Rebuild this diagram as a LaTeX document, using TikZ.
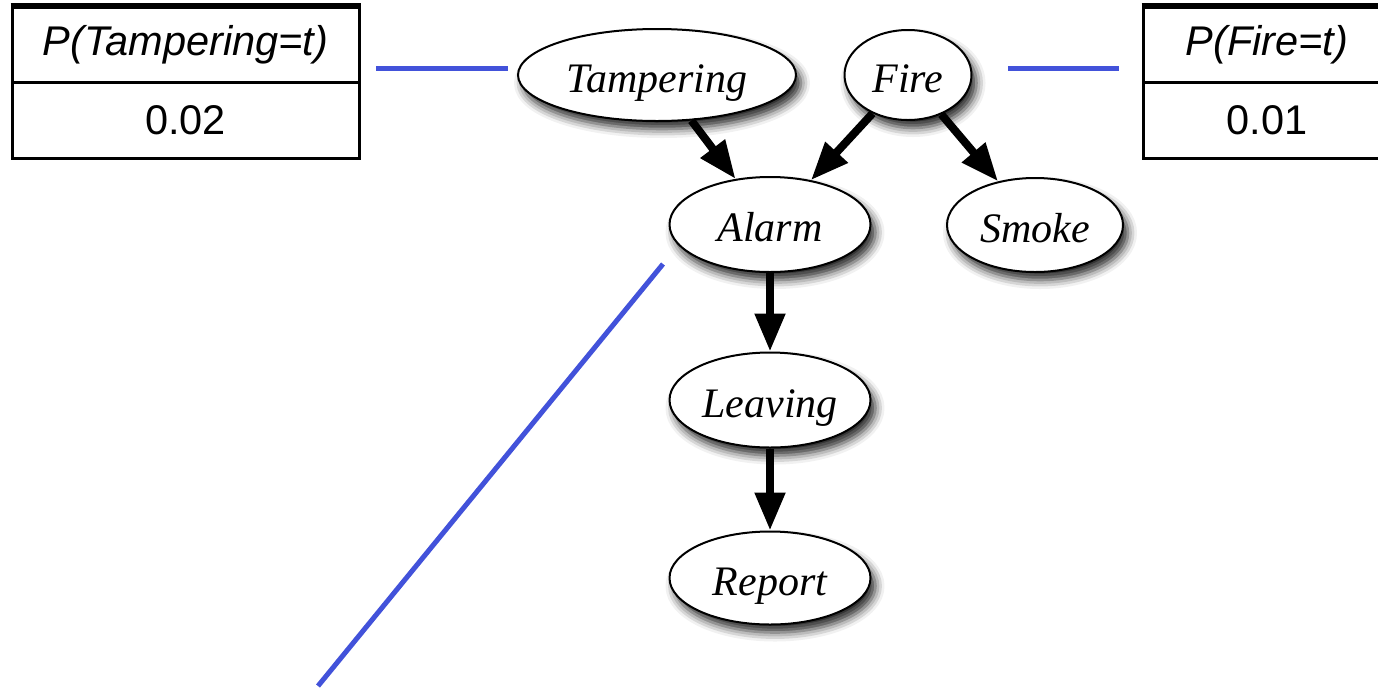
\documentclass[tikz,border=0pt]{standalone}
\usepackage{fontspec}
\setmainfont{Liberation Serif}
\setsansfont{Liberation Sans}
\usetikzlibrary{shapes.geometric,arrows.meta,shadows.blur}

\definecolor{linkblue}{RGB}{66,82,218}

\tikzset{
  var/.style={ellipse, draw=black, line width=2pt, fill=white, inner sep=0pt,
    font=\fontsize{42}{48}\selectfont\itshape, text height=38pt, text depth=4pt,
    blur shadow={shadow xshift=5pt, shadow yshift=-8pt, shadow blur radius=9pt, shadow opacity=85}},
  edge/.style={line width=8pt, -{Triangle[length=38pt,width=29pt]}},
  cell/.style={draw=black, line width=3pt, rectangle, inner sep=0pt,
    font=\fontsize{41.5}{48}\selectfont\sffamily},
  link/.style={draw=linkblue, line width=5pt}
}

\begin{document}
\begin{tikzpicture}[x=1pt, y=-1pt]
\useasboundingbox (0,0) rectangle (1378,689);

% prior tables
\node[cell, minimum width=347pt, minimum height=75pt, font=\fontsize{41.5}{48}\selectfont\sffamily\itshape] (ptH) at (185.5,44.5) {P(Tampering=t)};
\node[cell, minimum width=347pt, minimum height=76pt] (ptV) at (185.5,120) {0.02};
\draw[line width=5pt] (ptH.north west) -- (ptH.north east);

\node[cell, minimum width=248pt, minimum height=75pt, font=\fontsize{41.5}{48}\selectfont\sffamily\itshape] (pfH) at (1267,44.5) {P(Fire=t)};
\node[cell, minimum width=248pt, minimum height=76pt] (pfV) at (1267,120) {0.01};
\draw[line width=5pt] (pfH.north west) -- (pfH.north east);

% variables
\node[var, minimum width=278pt, minimum height=92pt] (tamp) at (657,75) {Tampering};
\node[var, minimum width=127pt, minimum height=90pt] (fire) at (908,75) {Fire};
\node[var, minimum width=201pt, minimum height=95pt] (alarm) at (770,224.5) {Alarm};
\node[var, minimum width=176pt, minimum height=94pt] (smoke) at (1035,225) {Smoke};
\node[var, minimum width=201pt, minimum height=95pt] (leave) at (770,400) {Leaving};
\node[var, minimum width=201pt, minimum height=93pt] (report) at (770,578) {Report};

% dependencies
\draw[edge] (tamp) -- (alarm);
\draw[edge] (fire) -- (alarm);
\draw[edge] (fire) -- (smoke);
\draw[edge] (alarm) -- (leave);
\draw[edge] (leave) -- (report);

% links from tables to their variables
\coordinate (lt1) at (376,68);
\coordinate (lt2) at (508,68);
\coordinate (lf1) at (1008,68);
\coordinate (lf2) at (1119,68);
\coordinate (la1) at (663,264);
\coordinate (la2) at (318,686);
\draw[link] (lt1) -- (lt2);
\draw[link] (lf1) -- (lf2);
\draw[link] (la1) -- (la2);
\end{tikzpicture}
\end{document}
